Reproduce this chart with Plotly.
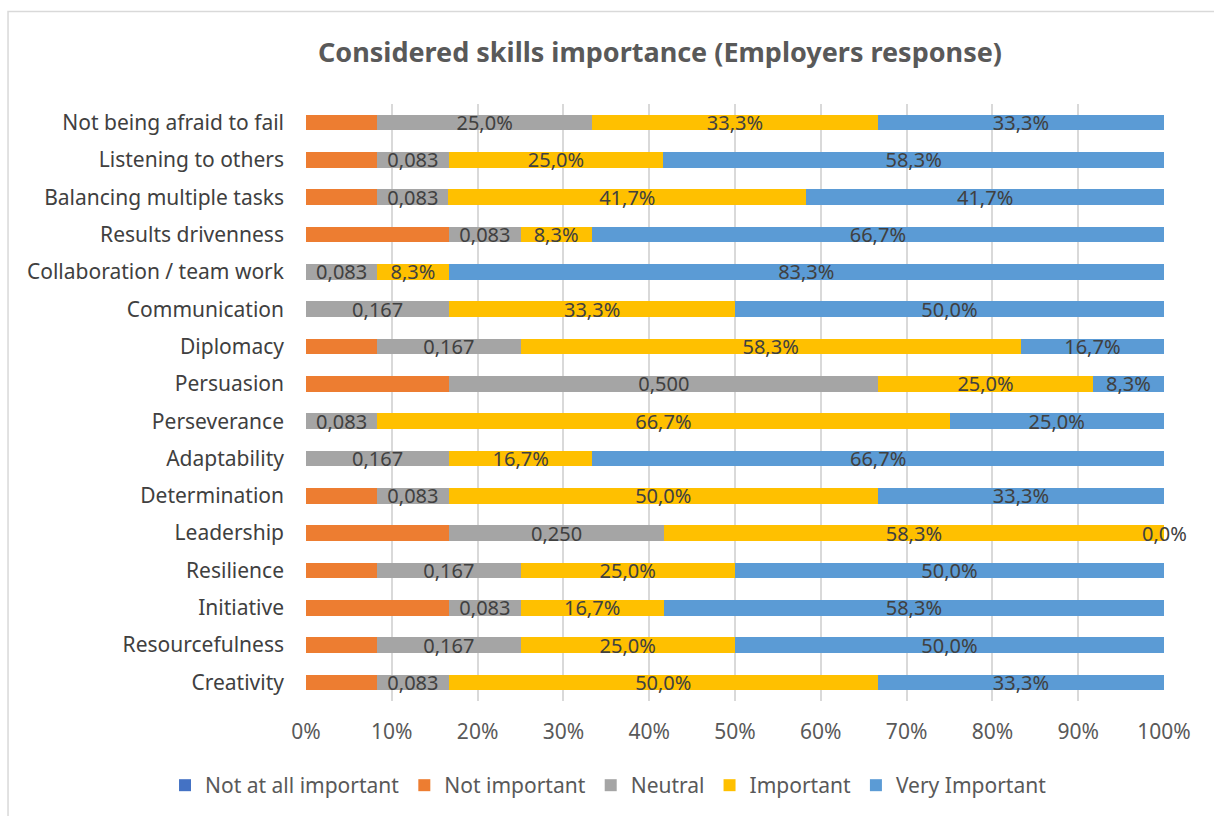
import plotly.graph_objects as go

# Skills, listed bottom to top as they appear on the y axis
skills = [
    "Creativity", "Resourcefulness", "Initiative", "Resilience", "Leadership",
    "Determination", "Adaptability", "Perseverance", "Persuasion", "Diplomacy",
    "Communication", "Collaboration / team work", "Results drivenness",
    "Balancing multiple tasks", "Listening to others", "Not being afraid to fail",
]

# Share of employer responses per rating (percent)
not_at_all = [0, 0, 0, 0, 0, 0, 0, 0, 0, 0, 0, 0, 0, 0, 0, 0]
not_important = [8.3, 8.3, 16.7, 8.3, 16.7, 8.3, 0, 0, 16.7, 8.3, 0, 0, 16.7, 8.3, 8.3, 8.3]
neutral = [8.3, 16.7, 8.3, 16.7, 25.0, 8.3, 16.7, 8.3, 50.0, 16.7, 16.7, 8.3, 8.3, 8.3, 8.3, 25.0]
important = [50.0, 25.0, 16.7, 25.0, 58.3, 50.0, 16.7, 66.7, 25.0, 58.3, 33.3, 8.3, 8.3, 41.7, 25.0, 33.3]
very_important = [33.3, 50.0, 58.3, 50.0, 0.0, 33.3, 66.7, 25.0, 8.3, 16.7, 50.0, 83.3, 66.7, 41.7, 58.3, 33.3]

# Neutral labels are shown as a fraction, except on the top row which is a percentage
neutral_as_pct = [False] * 15 + [True]

tick_vals = [0, 10, 20, 30, 40, 50, 60, 70, 80, 90, 100]
tick_text = [f"{v}%" for v in tick_vals]

FONT = "Noto Sans"
LABEL_FONT = dict(family=FONT, size=20, color="#404040")


def pct(v):
    return f"{v:.1f}%".replace(".", ",")


def frac(v):
    return f"{v / 100:.3f}".replace(".", ",")


neutral_text = [pct(v) if p else frac(v) for v, p in zip(neutral, neutral_as_pct)]
important_text = [pct(v) for v in important]
very_text = [pct(v) for v in very_important]

fig = go.Figure()
fig.add_bar(y=skills, x=not_at_all, name="Not at all important", orientation="h",
            marker_color="#4472C4")
fig.add_bar(y=skills, x=not_important, name="Not important", orientation="h",
            marker_color="#ED7D31")
fig.add_bar(y=skills, x=neutral, name="Neutral", orientation="h",
            marker_color="#A5A5A5", text=neutral_text)
fig.add_bar(y=skills, x=important, name="Important", orientation="h",
            marker_color="#FFC000", text=important_text)
fig.add_bar(y=skills, x=very_important, name="Very Important", orientation="h",
            marker_color="#5B9BD5", text=very_text)

fig.update_traces(marker_line_width=0, textposition="inside",
                  insidetextanchor="middle", textfont=LABEL_FONT,
                  constraintext="none", cliponaxis=False)

# Zero-width "Very Important" segments still get their label, centred on the bar end
for i, v in enumerate(very_important):
    if v == 0:
        row = [not_at_all[i], not_important[i], neutral[i], important[i], v]
        end = 100 * sum(row) / sum(row)
        fig.add_annotation(x=end, y=skills[i], xref="x", yref="y", text=pct(v),
                           showarrow=False, xanchor="center", yanchor="middle",
                           font=LABEL_FONT)

# Chart frame
fig.add_shape(type="rect", xref="paper", yref="paper",
              x0=-0.3473, x1=1.07, y0=-0.2, y1=1.155,
              line=dict(color="#D9D9D9", width=1.5), fillcolor="rgba(0,0,0,0)",
              layer="below")

fig.update_layout(
    width=1214, height=816,
    barmode="stack", barnorm="percent", bargap=0.58,
    paper_bgcolor="white", plot_bgcolor="white",
    margin=dict(l=306, r=50, t=104, b=115, autoexpand=False),
    font=dict(family=FONT, color="#595959", size=20),
    title=dict(text="<b>Considered skills importance (Employers response)</b>",
               x=0.4126, xref="paper", xanchor="center",
               y=1 - 53 / 816, yanchor="middle",
               font=dict(family=FONT, size=27, color="#595959")),
    xaxis=dict(range=[0, 100], tickvals=tick_vals, ticktext=tick_text,
               showgrid=True, gridcolor="#D9D9D9", gridwidth=1.5,
               zeroline=False, showline=False, ticks="",
               tickfont=dict(family=FONT, size=21, color="#595959"),
               ticklabelstandoff=16, fixedrange=True),
    yaxis=dict(categoryorder="array", categoryarray=skills, showgrid=False,
               ticks="", showline=False,
               tickfont=dict(family=FONT, size=21, color="#404040"),
               ticklabelstandoff=21, fixedrange=True),
    legend=dict(orientation="h", x=-0.1643, xanchor="left", y=-0.1416,
                yanchor="middle",
                font=dict(family=FONT, size=21, color="#595959"),
                traceorder="normal", itemwidth=30),
    showlegend=True,
)

fig.write_html("out.html")
